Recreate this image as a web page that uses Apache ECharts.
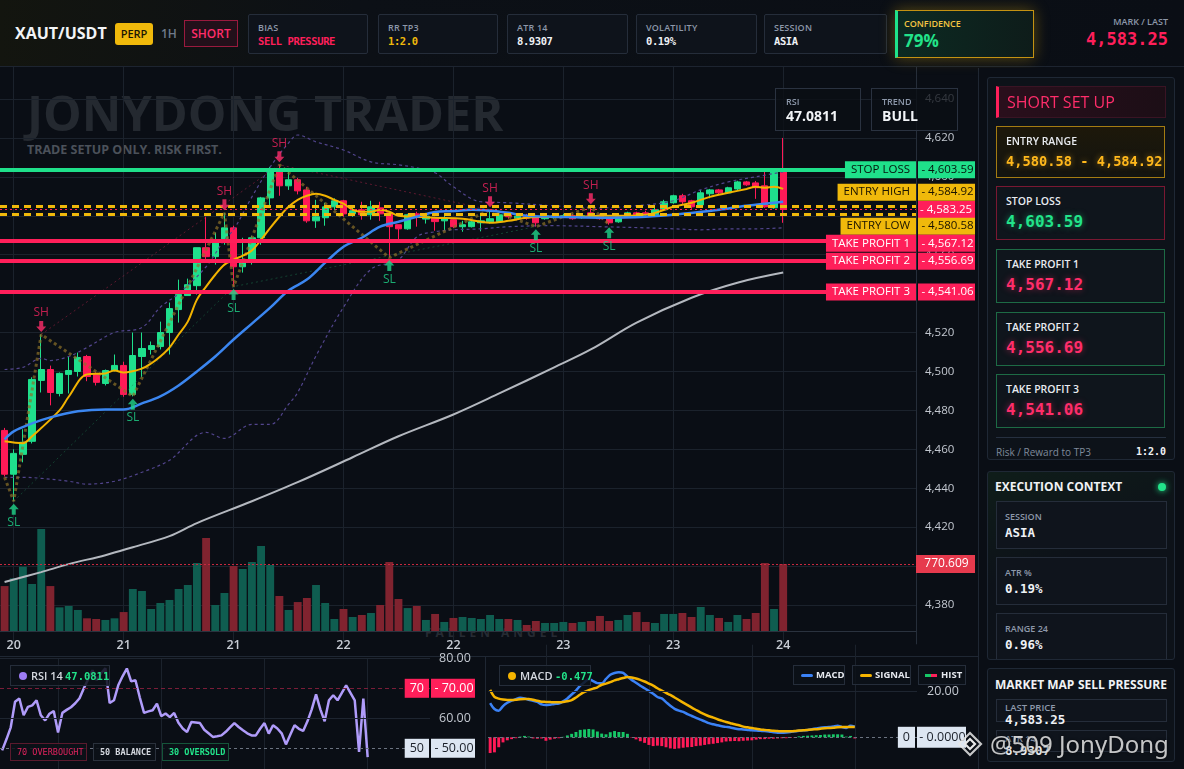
<!DOCTYPE html>
<html><head><meta charset="utf-8">
<script src="https://cdn.jsdelivr.net/npm/echarts@6/dist/echarts.min.js"></script>
<style>
*{box-sizing:border-box;margin:0;padding:0}
body{width:1184px;height:769px;overflow:hidden;background:#0a0e15;font-family:'Open Sans','Noto Sans',sans-serif;color:#e6e9ef;position:relative}
.abs{position:absolute}
.mono{font-family:'DejaVu Sans Mono',monospace;font-weight:700}
.hcard{position:absolute;top:14px;height:40px;border:1px solid #252d3a;background:#0e131b;border-radius:2px}
.hcard .l{position:absolute;left:9px;top:6px;font-size:9px;color:#8d98aa;font-weight:600;letter-spacing:.2px}
.hcard .v{position:absolute;left:9px;top:20px;font-size:10.5px;letter-spacing:-.4px;color:#eef1f5}
.panel{position:absolute;border:1px solid #1f2835;background:#0d1219;border-radius:3px;overflow:hidden}
.rcard{position:absolute;left:8px;width:169px;border:1px solid #1d6b45;background:#0f151c}
.rcard .l{position:absolute;left:9px;top:7px;font-size:10.5px;font-weight:600;color:#e8ebf0}
.rcard .v{position:absolute;left:9px;top:25px;font-size:16px;line-height:20px}
.ecard{position:absolute;left:8px;width:171px;height:48px;border:1px solid #252d3a;background:#0f141c}
.ecard .l{position:absolute;left:8px;top:8px;font-size:9px;color:#8d98aa;font-weight:600}
.ecard .v{position:absolute;left:8px;top:23px;font-size:12.5px;color:#eef1f5}
.ibox{position:absolute;border:1px solid #2a3240;background:rgba(10,14,21,.78)}
.ibox .l{position:absolute;left:10px;top:6px;font-size:9px;color:#8d98aa;font-weight:600}
.ibox .v{position:absolute;left:10px;top:17px;font-size:14px;font-weight:700;color:#f2f4f7}
.lg{position:absolute;height:20px;border:1px solid #252d3a;background:rgba(12,16,23,.85);font-size:9.5px;font-weight:700;color:#e6e9ef;line-height:18px;white-space:nowrap}
</style></head><body>

<!-- background layer -->
<div class="abs" style="left:0;top:0;width:1184px;height:769px;z-index:0">
  <div class="abs" style="left:27px;top:87px;font-size:48.7px;line-height:50px;font-weight:700;color:#242930;white-space:nowrap">JONYDONG TRADER</div>
  <div class="abs" style="left:27px;top:141px;font-size:12.5px;font-weight:700;color:#4b515a;white-space:nowrap">TRADE SETUP ONLY. RISK FIRST.</div>
  <div class="abs" style="left:425px;top:624px;font-size:12px;font-weight:700;letter-spacing:4px;color:#262b33;white-space:nowrap">FALLEN ANGEL</div>
  <div class="abs" style="left:0;top:656px;width:979px;height:1px;background:#1f2733"></div>
  <div class="abs" style="left:978px;top:68px;width:1px;height:701px;background:#1f2733"></div>
  <div class="abs" style="left:485px;top:657px;width:1px;height:112px;background:#1f2733"></div>
</div>

<div id="chart" class="abs" style="left:0;top:0;width:1184px;height:830px;z-index:1"></div>

<!-- header -->
<div class="abs" style="left:0;top:0;width:1184px;height:67px;z-index:2;background:linear-gradient(90deg,#13150f 0%,#0c1016 30%,#0a0e15 100%);border-bottom:1px solid #1d2430">
  <div class="abs" style="left:15px;top:22px;font-size:16px;font-weight:700;color:#f2f4f7;white-space:nowrap">XAUT/USDT</div>
  <div class="abs" style="left:115px;top:23px;width:38px;height:22px;background:#f0b90b;border-radius:3px;color:#1b1604;font-size:11px;font-weight:600;line-height:22px;text-align:center">PERP</div>
  <div class="abs" style="left:161px;top:25px;font-size:12px;color:#6f7a8b;font-weight:600">1H</div>
  <div class="abs" style="left:184px;top:20px;width:54px;height:27px;border:1px solid #9a1a3e;background:#22101a;color:#ff2d6a;font-size:12px;font-weight:600;line-height:25px;text-align:center">SHORT</div>
  <div class="hcard" style="left:248px;width:120px"><div class="l">BIAS</div><div class="v mono" style="color:#ff1f5a">SELL PRESSURE</div></div>
  <div class="hcard" style="left:378px;width:120px"><div class="l">RR TP3</div><div class="v mono" style="color:#f0b90b">1:2.0</div></div>
  <div class="hcard" style="left:507px;width:121px"><div class="l">ATR 14</div><div class="v mono">8.9307</div></div>
  <div class="hcard" style="left:636px;width:121px"><div class="l">VOLATILITY</div><div class="v mono">0.19%</div></div>
  <div class="hcard" style="left:764px;width:123px"><div class="l">SESSION</div><div class="v mono">ASIA</div></div>
  <div class="abs" style="left:895px;top:10px;width:139px;height:48px;border:1px solid #c49212;border-left:3px solid #1ee38b;background:linear-gradient(90deg,#0c2a22,#0e1c1a);box-shadow:0 0 14px rgba(240,185,11,.35)">
    <div class="abs" style="left:6px;top:6px;font-size:9px;font-weight:600;color:#f4c542">CONFIDENCE</div>
    <div class="abs" style="left:6px;top:18px;font-size:17px;font-weight:700;color:#22e38a">79%</div>
  </div>
  <div class="abs" style="right:16px;top:15px;font-size:9px;color:#8d98aa;font-weight:600;text-align:right">MARK / LAST</div>
  <div class="abs mono" style="right:16px;top:29px;font-size:17px;color:#ff1f5a;text-align:right">4,583.25</div>
</div>

<!-- right side -->
<div class="abs" style="left:979px;top:68px;width:205px;height:701px;background:#0a0e15;z-index:2"></div>
<div class="panel" style="left:987px;top:77px;width:188px;height:383px;z-index:3">
  <div class="abs" style="left:8px;top:8px;width:170px;height:32px;background:linear-gradient(90deg,#2a0f1c,#1c0e16);border:1px solid #3a1424;border-left:3px solid #ff1f5a">
    <span class="abs" style="left:8px;top:4px;font-size:16px;color:#ff2d6a;font-weight:500;white-space:nowrap">SHORT SET UP</span></div>
  <div class="rcard" style="top:48px;height:52px;border-color:#a47c12;background:linear-gradient(180deg,#1d180a,#131410)"><div class="l">ENTRY RANGE</div><div class="v mono" style="top:24px;font-size:13.7px;color:#ffb81c;text-shadow:0 0 6px rgba(255,184,28,.5);white-space:nowrap">4,580.58 - 4,584.92</div></div>
  <div class="rcard" style="top:108px;height:54px;border-color:#7a1832"><div class="l">STOP LOSS</div><div class="v mono" style="color:#22e38a;text-shadow:0 0 6px rgba(34,227,138,.5)">4,603.59</div></div>
  <div class="rcard" style="top:171px;height:54px"><div class="l">TAKE PROFIT 1</div><div class="v mono" style="color:#ff2d6a;text-shadow:0 0 6px rgba(255,45,106,.5)">4,567.12</div></div>
  <div class="rcard" style="top:234px;height:54px"><div class="l">TAKE PROFIT 2</div><div class="v mono" style="color:#ff2d6a;text-shadow:0 0 6px rgba(255,45,106,.5)">4,556.69</div></div>
  <div class="rcard" style="top:296px;height:54px"><div class="l">TAKE PROFIT 3</div><div class="v mono" style="color:#ff2d6a;text-shadow:0 0 6px rgba(255,45,106,.5)">4,541.06</div></div>
  <div class="abs" style="left:8px;top:359px;width:170px;height:1px;background:#263040"></div>
  <div class="abs" style="left:8px;top:367px;font-size:10px;color:#7f8a9b;white-space:nowrap">Risk / Reward to TP3</div>
  <div class="abs mono" style="right:8px;top:368px;font-size:10px;color:#f0f2f5">1:2.0</div>
</div>

<div class="panel" style="left:987px;top:471px;width:188px;height:189px;z-index:3;background:linear-gradient(160deg,#0f1d19 0%,#0d1219 45%)">
  <div class="abs" style="left:7px;top:6px;font-size:12px;font-weight:700;color:#f0f2f5;white-space:nowrap">EXECUTION CONTEXT</div>
  <div class="abs" style="left:170px;top:11px;width:8px;height:8px;border-radius:50%;background:#22e38a;box-shadow:0 0 6px #22e38a"></div>
  <div class="ecard" style="top:29px"><div class="l">SESSION</div><div class="v mono">ASIA</div></div>
  <div class="ecard" style="top:85px"><div class="l">ATR %</div><div class="v mono">0.19%</div></div>
  <div class="ecard" style="top:141px"><div class="l">RANGE 24</div><div class="v mono">0.96%</div></div>
</div>

<div class="panel" style="left:987px;top:668px;width:188px;height:94px;z-index:3;overflow:visible">
  <div class="abs" style="left:7px;top:7px;font-size:12px;font-weight:700;color:#f0f2f5;white-space:nowrap">MARKET MAP</div>
  <div class="abs" style="right:7px;top:7px;font-size:12px;font-weight:700;color:#f0f2f5;white-space:nowrap">SELL PRESSURE</div>
  <div class="ecard" style="top:30px;height:23px"><div class="l" style="top:1px;font-size:9.5px">LAST PRICE</div><div class="v mono" style="top:12px">4,583.25</div></div>
  <div class="ecard" style="top:61px;height:22px"><div class="l" style="top:1px;font-size:9.5px">ATR 14</div><div class="v mono" style="top:12px">8.9307</div></div>
</div>

<div class="abs" style="left:957px;top:731px;z-index:4">
  <svg width="26" height="26" viewBox="0 0 26 26"><g fill="none" stroke="#e8e8e8" stroke-width="2.2"><path d="M13 2 L24 13 L13 24 L2 13 Z" opacity=".85"/><path d="M13 8 L18 13 L13 18 L8 13 Z"/></g></svg>
</div>
<div class="abs" style="left:990px;top:727px;z-index:4;font-family:'Noto Sans',sans-serif;font-size:24px;color:rgba(238,238,238,.82);text-shadow:0 0 3px rgba(0,0,0,.7);white-space:nowrap">@509 JonyDong</div>

<!-- chart overlays -->
<div class="ibox" style="left:775px;top:88px;width:86px;height:43px;z-index:2"><div class="l">RSI</div><div class="v">47.0811</div></div>
<div class="ibox" style="left:871px;top:88px;width:87px;height:43px;z-index:2"><div class="l">TREND</div><div class="v">BULL</div></div>

<div class="lg" style="left:10px;top:665px;width:100px;height:21px;z-index:2">
  <span class="abs" style="left:8px;top:6px;width:8px;height:8px;border-radius:50%;background:#9d7cf5"></span>
  <span class="abs" style="left:20px;top:1px;font-size:11px;font-weight:600;color:#d5d9e0">RSI 14</span>
  <span class="abs mono" style="left:54px;top:1px;font-size:10.5px;color:#22e38a">47.0811</span>
</div>
<div class="lg mono" style="left:10px;top:743px;width:77px;height:18px;border-color:#5a1a2d;color:#e0245e;font-size:8.5px;font-weight:400;padding-left:6px;line-height:16px;z-index:2">70 OVERBOUGHT</div>
<div class="lg mono" style="left:93px;top:743px;width:63px;height:18px;border-color:#2a313c;color:#d5d9e0;font-size:8.5px;padding-left:6px;line-height:16px;z-index:2">50 BALANCE</div>
<div class="lg mono" style="left:162px;top:743px;width:67px;height:18px;border-color:#15553a;color:#22e38a;font-size:8.5px;padding-left:6px;line-height:16px;z-index:2">30 OVERSOLD</div>

<div class="lg" style="left:499px;top:665px;width:92px;height:21px;z-index:2">
  <span class="abs" style="left:8px;top:6px;width:8px;height:8px;border-radius:50%;background:#f5b400"></span>
  <span class="abs" style="left:20px;top:1px;font-size:11px;font-weight:600;color:#d5d9e0">MACD</span>
  <span class="abs mono" style="left:55px;top:1px;font-size:10.5px;color:#22e38a">-0.477</span>
</div>
<div class="lg" style="left:793px;top:665px;width:52px;z-index:2"><span class="abs" style="left:7px;top:8px;width:12px;height:3px;border-radius:2px;background:#3b82f6"></span><span class="abs" style="left:22px;top:0">MACD</span></div>
<div class="lg" style="left:852px;top:665px;width:59px;z-index:2"><span class="abs" style="left:7px;top:8px;width:12px;height:3px;border-radius:2px;background:#f5b400"></span><span class="abs" style="left:22px;top:0">SIGNAL</span></div>
<div class="lg" style="left:918px;top:665px;width:48px;z-index:2"><span class="abs" style="left:6px;top:8px;width:6px;height:3px;background:#16c766"></span><span class="abs" style="left:12px;top:8px;width:6px;height:3px;background:#ff1f5a"></span><span class="abs" style="left:22px;top:0">HIST</span></div>

<script>
// ---------------- data ----------------
const tickLabels = ['20', '21', '21', '22', '22', '23', '23', '24'];

const opens = [4469.7, 4447.2, 4457.4, 4464.1, 4495.4, 4501.0, 4488.7, 4498.5, 4500.0, 4507.7,
  4499.0, 4493.8, 4500.5, 4503.1, 4488.2, 4507.7, 4511.3, 4512.8, 4520.0, 4531.8,
  4539.0, 4544.1, 4563.6, 4559.0, 4567.2, 4573.8, 4553.8, 4556.4, 4568.7, 4589.2,
  4604.1, 4595.4, 4598.5, 4593.3, 4577.4, 4579.0, 4584.6, 4587.7, 4581.0, 4583.1,
  4580.5, 4584.1, 4581.5, 4575.4, 4573.3, 4581.0, 4578.3, 4579.0, 4577.4, 4578.0,
  4574.4, 4574.4, 4576.4, 4576.9, 4576.9, 4580.5, 4578.6, 4580.0, 4579.5, 4578.5,
  4579.0, 4579.5, 4580.0, 4579.0, 4581.5, 4580.0, 4579.0, 4576.9, 4579.5, 4581.5,
  4581.5, 4580.5, 4583.1, 4586.7, 4590.3, 4587.7, 4585.6, 4591.3, 4593.3, 4591.8,
  4593.8, 4597.4, 4596.9, 4595.4, 4584.1, 4603.6];
const closes = [4447.2, 4457.9, 4463.6, 4495.9, 4501.0, 4489.2, 4499.0, 4500.5, 4507.2, 4497.4,
  4494.4, 4500.5, 4503.1, 4488.2, 4508.2, 4511.8, 4513.3, 4520.0, 4532.3, 4539.5,
  4544.6, 4563.6, 4559.0, 4567.7, 4573.8, 4553.8, 4557.4, 4568.7, 4589.2, 4604.1,
  4595.4, 4598.5, 4592.8, 4577.4, 4579.5, 4584.6, 4587.7, 4581.0, 4582.6, 4580.5,
  4584.6, 4581.0, 4574.4, 4573.3, 4580.5, 4579.5, 4579.8, 4577.0, 4578.5, 4574.4,
  4575.4, 4576.9, 4577.4, 4578.5, 4580.5, 4579.5, 4579.8, 4578.8, 4576.4, 4580.0,
  4580.0, 4580.0, 4578.5, 4580.0, 4580.0, 4578.5, 4576.4, 4579.5, 4581.5, 4580.5,
  4580.5, 4583.1, 4587.2, 4590.3, 4587.2, 4584.6, 4591.8, 4593.3, 4591.8, 4594.4,
  4597.4, 4595.9, 4594.4, 4584.6, 4603.6, 4583.25];
const lows = [4446.0, 4433.3, 4453.3, 4463.0, 4489.2, 4482.6, 4487.2, 4488.7, 4497.4, 4495.0,
  4492.8, 4492.8, 4500.0, 4487.0, 4487.2, 4497.0, 4508.7, 4511.3, 4508.7, 4525.1,
  4539.0, 4539.5, 4557.4, 4554.9, 4565.1, 4543.6, 4550.8, 4554.9, 4565.1, 4584.6,
  4590.3, 4593.3, 4591.0, 4576.4, 4573.8, 4574.9, 4583.0, 4579.5, 4579.5, 4578.0,
  4578.0, 4577.4, 4558.5, 4567.7, 4572.8, 4574.4, 4576.0, 4572.3, 4572.3, 4573.8,
  4571.8, 4574.0, 4572.0, 4576.0, 4576.4, 4578.5, 4578.0, 4578.0, 4574.4, 4578.0,
  4578.5, 4579.0, 4578.0, 4578.5, 4579.0, 4578.0, 4575.4, 4576.4, 4579.0, 4580.0,
  4580.0, 4580.0, 4583.0, 4586.2, 4585.6, 4583.6, 4585.0, 4589.0, 4590.8, 4591.3,
  4593.0, 4595.4, 4588.7, 4584.1, 4583.6, 4576.4];
const highs = [4471.0, 4460.0, 4470.3, 4497.0, 4519.0, 4503.0, 4499.5, 4507.7, 4509.7, 4508.5,
  4499.5, 4501.0, 4508.7, 4505.0, 4520.0, 4520.0, 4515.4, 4525.6, 4535.4, 4547.2,
  4547.7, 4563.6, 4579.5, 4571.3, 4581.5, 4574.9, 4568.7, 4569.7, 4589.7, 4605.1,
  4606.2, 4602.6, 4599.5, 4594.9, 4588.2, 4586.7, 4589.0, 4588.2, 4585.1, 4587.2,
  4587.7, 4587.2, 4582.1, 4575.4, 4581.0, 4582.1, 4581.5, 4579.5, 4580.5, 4578.5,
  4577.4, 4577.4, 4581.5, 4583.1, 4581.0, 4581.5, 4581.0, 4581.0, 4580.5, 4581.0,
  4580.5, 4581.0, 4581.0, 4581.0, 4584.6, 4581.0, 4579.5, 4580.0, 4582.1, 4582.1,
  4582.6, 4584.1, 4588.2, 4590.8, 4591.3, 4588.2, 4593.3, 4593.8, 4593.8, 4594.9,
  4598.0, 4597.9, 4597.9, 4602.6, 4604.1, 4620.0];
const volumes = [517, 606, 740, 541, 1173, 517, 272, 288, 242, 146,
  138, 127, 146, 218, 483, 460, 253, 322, 357, 483,
  529, 782, 1069, 299, 437, 748, 713, 794, 978, 759,
  403, 242, 333, 380, 529, 322, 138, 253, 161, 184,
  207, 299, 794, 368, 264, 288, 127, 196, 104, 150,
  161, 150, 138, 184, 138, 138, 127, 69, 115, 92,
  92, 104, 92, 104, 115, 173, 115, 127, 184, 218,
  104, 92, 196, 196, 207, 161, 276, 184, 150, 104,
  184, 138, 207, 782, 253, 770.609];

// moving averages / bands as [candle index, price]
const emaFast = [[0, 4464.1], [2, 4463.1], [3, 4466.7], [6, 4480.0], [7, 4487.0], [9, 4498.5], [11, 4499.0], [12, 4500.5], [13, 4499.5],
  [15, 4501.5], [16, 4504.1], [17, 4507.7], [18, 4512.3], [19, 4519.0], [20, 4525.6], [21, 4536.9], [22, 4543.6], [23, 4549.7],
  [24, 4554.9], [25, 4557.4], [26, 4559.5], [27, 4562.1], [28, 4567.7], [29, 4573.8], [30, 4579.5], [31, 4584.6], [32, 4588.2],
  [33, 4590.3], [34, 4591.3], [35, 4590.3], [36, 4588.2], [37, 4586.2], [38, 4583.1], [39, 4582.1], [40, 4582.1], [41, 4583.1],
  [42, 4582.1], [43, 4580.0], [45, 4579.5], [47, 4579.0], [50, 4578.5], [52, 4576.9], [53, 4576.4], [55, 4577.4], [57, 4579.0],
  [60, 4579.5], [63, 4579.5], [65, 4580.0], [68, 4580.0], [70, 4580.5], [71, 4581.5], [73, 4584.6], [75, 4586.7], [77, 4589.7],
  [79, 4591.8], [81, 4593.8], [82, 4594.9], [83, 4594.4], [84, 4594.9], [85, 4593.8]];
const emaMid = [[0, 4465.1], [1, 4469.2], [3, 4473.3], [5, 4476.4], [8, 4479.5], [11, 4480.5], [13, 4480.5], [15, 4483.6], [17, 4487.2],
  [19, 4492.8], [21, 4500.0], [23, 4507.7], [25, 4516.4], [27, 4524.6], [29, 4532.8], [31, 4541.6], [33, 4547.2], [35, 4555.9],
  [37, 4564.1], [39, 4568.7], [41, 4574.4], [43, 4576.9], [45, 4579.5], [47, 4582.0], [49, 4582.4], [51, 4583.1], [53, 4582.6],
  [55, 4581.5], [57, 4580.0], [60, 4579.5], [65, 4579.0], [70, 4579.5], [74, 4581.0], [78, 4583.1], [81, 4585.1], [85, 4587.2]];
const emaSlow = [[0, 4391.8], [4, 4396.9], [7, 4401.0], [11, 4405.6], [14, 4409.7], [18, 4415.4], [21, 4422.1], [27, 4433.3],
  [32, 4443.1], [38, 4455.9], [43, 4466.7], [49, 4477.9], [54, 4488.7], [60, 4502.1], [64, 4511.3], [69, 4525.1], [75, 4537.9],
  [80, 4545.6], [85, 4550.8]];
const bbUpper = [[0, 4501.0], [2, 4502.1], [4, 4506.7], [5, 4505.6], [7, 4507.7], [9, 4512.3], [12, 4520.0], [15, 4522.6], [17, 4533.0],
  [19, 4540.0], [22, 4553.8], [24, 4567.7], [25, 4572.8], [27, 4589.7], [29, 4605.1], [31, 4617.4], [32, 4621.5], [34, 4618.0],
  [37, 4613.8], [40, 4607.7], [43, 4606.2], [45, 4604.6], [47, 4602.1], [49, 4594.9], [52, 4587.2], [55, 4586.7], [60, 4585.1],
  [65, 4584.1], [70, 4585.6], [73, 4587.7], [76, 4593.3], [79, 4597.4], [82, 4600.0], [85, 4602.6]];
const bbLower = [[0, 4445.6], [2, 4445.6], [4, 4445.1], [7, 4443.6], [9, 4442.1], [12, 4443.6], [15, 4448.2], [18, 4454.4], [22, 4468.7],
  [24, 4465.6], [27, 4472.8], [29, 4472.8], [31, 4483.1], [32, 4489.2], [34, 4508.0], [37, 4533.0], [40, 4552.5], [43, 4557.4],
  [45, 4569.2], [47, 4571.8], [49, 4572.8], [52, 4573.3], [55, 4574.4], [60, 4574.9], [65, 4574.4], [70, 4573.8], [73, 4573.3],
  [76, 4572.8], [79, 4573.3], [82, 4573.3], [85, 4573.8]];
const zigzag = [[0, 4445.6], [1, 4433.3], [4, 4519.0], [14, 4487.2], [24, 4581.5], [25, 4543.6], [30, 4606.2], [42, 4558.5],
  [53, 4583.1], [58, 4574.4], [64, 4584.6], [66, 4575.4]];
const resistanceLine = [[4, 4519.0], [30, 4606.2], [53, 4583.1]];
const supportLine = [[1, 4433.3], [25, 4543.6], [58, 4574.4]];
const swingHighs = [[4, 4519.0], [24, 4581.5], [30, 4606.2], [53, 4583.1], [64, 4584.6]];
const swingLows = [[1, 4433.3], [14, 4487.2], [25, 4543.6], [42, 4558.5], [58, 4574.4], [66, 4575.4]];

const levelNames = ['STOP LOSS', 'ENTRY HIGH', '', 'ENTRY LOW', 'TAKE PROFIT 1', 'TAKE PROFIT 2', 'TAKE PROFIT 3'];
const levelValues = [4603.59, 4584.92, 4583.25, 4580.58, 4567.12, 4556.69, 4541.06];

const rsi = [49.3, 53.0, 57.0, 65.5, 66.6, 61.0, 63.8, 64.3, 66.0, 61.0,
  59.3, 61.5, 62.4, 55.3, 61.8, 62.8, 63.7, 65.0, 66.7, 70.0,
  73.0, 76.0, 72.7, 75.0, 76.7, 65.1, 66.0, 71.0, 74.0, 76.6,
  72.3, 72.7, 67.0, 61.8, 62.3, 62.7, 64.9, 60.7, 61.6, 60.4,
  61.8, 58.5, 56.6, 55.4, 58.8, 58.6, 58.4, 56.2, 55.0, 53.8,
  54.0, 54.3, 55.5, 57.0, 58.4, 57.1, 56.0, 55.0, 54.3, 54.3,
  56.5, 58.4, 54.9, 57.7, 56.6, 55.0, 51.3, 54.5, 57.7, 56.5,
  55.8, 59.0, 63.0, 68.0, 63.0, 59.0, 66.0, 67.7, 66.0, 68.5,
  71.0, 68.5, 66.0, 48.8, 66.6, 47.08];
const rsiGuides = [80, 60];
const rsiBands = [70, 50];

const macd = [14.8, 12.2, 11.5, 13.5, 14.9, 15.8, 16.5, 17.1, 16.8, 16.2,
  15.8, 15.3, 14.2, 13.9, 14.1, 14.4, 14.6, 15.5, 16.8, 18.5,
  20.2, 22.3, 23.8, 25.1, 24.3, 23.4, 23.3, 25.2, 27.0, 27.8,
  28.1, 27.8, 26.2, 24.8, 23.6, 22.3, 21.2, 20.0, 18.8, 17.4,
  16.8, 15.2, 13.6, 12.3, 11.5, 11.0, 10.0, 9.2, 8.4, 7.6,
  6.9, 6.1, 5.6, 5.2, 4.8, 4.5, 4.2, 3.8, 3.5, 3.4,
  3.2, 3.0, 2.9, 2.8, 2.7, 2.5, 2.2, 2.0, 2.0, 2.1,
  2.3, 2.6, 2.8, 3.0, 3.2, 3.5, 3.8, 4.1, 4.3, 4.4,
  4.7, 5.0, 4.4, 4.0, 5.0, 4.6];
const signal = [20.5, 17.5, 16.7, 16.3, 16.1, 16.1, 16.2, 16.4, 16.5, 16.5,
  16.2, 15.8, 15.4, 15.3, 15.2, 15.1, 15.1, 15.2, 15.6, 16.1,
  17.2, 18.5, 19.6, 20.4, 21.0, 21.6, 22.7, 23.2, 23.8, 24.6,
  25.1, 25.6, 26.0, 25.8, 25.4, 24.8, 24.1, 23.2, 22.3, 21.2,
  20.2, 19.2, 18.3, 17.2, 16.1, 15.0, 13.9, 12.8, 11.8, 10.8,
  9.9, 9.1, 8.5, 7.8, 7.2, 6.6, 6.1, 5.6, 5.2, 4.6,
  4.3, 4.0, 3.7, 3.4, 3.2, 3.0, 2.8, 2.7, 2.6, 2.6,
  2.6, 2.7, 2.9, 3.0, 3.2, 3.4, 3.5, 3.7, 3.9, 4.0,
  4.1, 4.3, 4.4, 4.4, 4.5, 4.5];
const hist = [-6.8, -6.5, -4.3, -2.2, -1.3, -0.8, -0.4, 0.3, 0.6, 0.3,
  -0.5, -0.6, -0.5, -1.5, -1.0, -0.6, -0.4, 0.2, 0.8, 1.5,
  2.3, 3.2, 3.4, 3.6, 3.4, 2.5, 1.6, 1.3, 2.2, 2.7,
  2.3, 2.3, 1.5, -0.2, -0.9, -1.7, -2.4, -3.3, -3.8, -3.6,
  -3.8, -4.3, -4.8, -5.0, -4.8, -4.5, -4.3, -4.2, -3.8, -3.6,
  -3.3, -3.0, -2.8, -2.5, -2.2, -1.8, -1.7, -1.6, -1.7, -1.5,
  -1.4, -1.3, -1.0, -0.8, -0.8, -0.6, -0.6, -0.5, -0.4, -0.4,
  -0.3, -0.2, 0.4, 0.6, 0.7, 0.8, 0.9, 1.0, 1.2, 1.2,
  1.3, 1.3, 1.2, 0.3, 0.6, -0.5];
const macdGuides = [20];
const macdZero = [0];

// ---------------- build ----------------
const SLOTS = 100;
const categories = [];
for (let i = 0; i < SLOTS; i++) {
  const h = i + 11;
  categories.push((20 + Math.floor(h / 24)) + ' ' + String(h % 24).padStart(2, '0') + ':00');
}
const UP = '#1fe08c', DOWN = '#ff1a57';
const fmtPrice = v => v.toLocaleString('en-US', {minimumFractionDigits: 2, maximumFractionDigits: 2});
const candles = opens.map((o, i) => [o, closes[i], lows[i], highs[i]]);

function tag(name, valueText, bg, fg, opts) {
  const h = opts.h || 17, fs = opts.fs || 11.5;
  const shift = opts.shift || 0;
  const base = {backgroundColor: bg, color: fg, fontSize: fs, fontFamily: 'Open Sans', height: h, lineHeight: h};
  return {
    show: true, position: 'end', distance: opts.distance, align: 'right', verticalAlign: 'middle',
    padding: shift >= 0 ? [shift * 2, 0, 0, 0] : [0, 0, -shift * 2, 0],
    formatter: (name ? '{n|' + name + '}{s| }' : '') + '{v|' + valueText + '}',
    rich: {
      n: Object.assign({}, base, {padding: [0, opts.np || 6, 0, opts.np || 6]}),
      s: {width: opts.gap || 2, height: h, fontSize: 4},
      v: Object.assign({}, base, {width: opts.vw, padding: [0, 0, 0, 2], align: opts.valign || 'left'})
    }
  };
}

const levelLook = {
  'STOP LOSS': {c: '#1fe08a', fg: '#06140c', w: 4, t: 'solid', shift: 0},
  'ENTRY HIGH': {c: '#f0b90b', fg: '#1a1300', w: 3, t: [7, 5], shift: -14},
  '': {c: '#ff1f5a', fg: '#ffffff', w: 1, t: [2, 3], shift: 0},
  'ENTRY LOW': {c: '#f0b90b', fg: '#1a1300', w: 3, t: [7, 5], shift: 11.5},
  'TAKE PROFIT 1': {c: '#ff1f5a', fg: '#ffffff', w: 4, t: 'solid', shift: 2.5},
  'TAKE PROFIT 2': {c: '#ff1f5a', fg: '#ffffff', w: 4, t: 'solid', shift: 0},
  'TAKE PROFIT 3': {c: '#ff1f5a', fg: '#ffffff', w: 4, t: 'solid', shift: 0.5}
};
const levelLines = levelValues.map((v, i) => {
  const nm = levelNames[i], lk = levelLook[nm];
  return {
    yAxis: v,
    lineStyle: {color: lk.c, width: lk.w, type: lk.t},
    label: tag(nm, '- ' + fmtPrice(v), lk.c, lk.fg, {distance: 59, vw: 55, shift: lk.shift})
  };
});

const gridLineColor = '#1b222c';
const hiddenCat = (gi, splitFn) => ({
  type: 'category', gridIndex: gi, data: categories, boundaryGap: true,
  axisLine: {show: false}, axisTick: {show: false}, axisLabel: {show: false},
  splitLine: {show: !!splitFn, interval: splitFn, alignWithLabel: true, lineStyle: {color: gridLineColor, width: 1}}
});
const lineSeries = (data, color, width, extra) => Object.assign({
  type: 'line', xAxisIndex: 0, yAxisIndex: 0, data: data, symbol: 'none', silent: true,
  connectNulls: true, lineStyle: {color: color, width: width}, smooth: 0.35
}, extra || {});

const option = {
  animation: false,
  backgroundColor: 'transparent',
  grid: [
    {left: 0, width: 916, top: 60.1, height: 583.8},
    {left: 0, width: 916, top: 518, height: 113},
    {left: 0, width: 430, top: 658.3, height: 120},
    {left: 488, width: 429, top: 644.7, height: 138.9}
  ],
  xAxis: [
    hiddenCat(0, i => i % 12 === 1 && i <= 85),
    {
      type: 'category', gridIndex: 1, data: categories, boundaryGap: true,
      axisLine: {show: true, lineStyle: {color: '#2a323e'}}, axisTick: {show: false},
      axisLabel: {interval: i => i % 12 === 1 && i <= 85, formatter: (v, i) => tickLabels[(i - 1) / 12],
        color: '#c8cdd5', fontSize: 12.5, fontWeight: 600, fontFamily: 'Open Sans', margin: 8},
      splitLine: {show: false}
    },
    hiddenCat(2, i => i % 24 === 13),
    hiddenCat(3, i => i % 24 === 13)
  ],
  yAxis: [
    {
      type: 'value', gridIndex: 0, position: 'right', min: 4360, max: 4660, interval: 20, scale: true,
      axisLine: {show: true, lineStyle: {color: '#262e3a'}}, axisTick: {show: false},
      axisLabel: {color: '#c3c8d0', fontSize: 11.5, fontFamily: 'Open Sans', margin: 9, showMinLabel: false, showMaxLabel: false,
        formatter: v => v.toLocaleString('en-US')},
      splitLine: {show: true, showMinLine: false, showMaxLine: false, lineStyle: {color: gridLineColor}}
    },
    {type: 'value', gridIndex: 1, min: 0, max: 1300, show: false, splitLine: {show: false}},
    {
      type: 'value', gridIndex: 2, position: 'right', min: 40, max: 80, interval: 10,
      axisLine: {show: false}, axisTick: {show: false}, splitLine: {show: false},
      axisLabel: {color: '#c3c8d0', fontSize: 12.5, fontFamily: 'Open Sans', margin: 9,
        formatter: v => (v === 70 || v === 50 || v === 40) ? '' : v.toFixed(2)}
    },
    {
      type: 'value', gridIndex: 3, position: 'right', min: -20, max: 40, interval: 20,
      axisLine: {show: false}, axisTick: {show: false}, splitLine: {show: false},
      axisLabel: {color: '#c3c8d0', fontSize: 12.5, fontFamily: 'Open Sans', margin: 10,
        formatter: v => (v > 0 && v < 40) ? v.toFixed(2) : ''}
    }
  ],
  series: [
    {
      type: 'bar', xAxisIndex: 1, yAxisIndex: 1, barWidth: '86%', silent: true,
      data: volumes.map((v, i) => ({value: v, itemStyle: {color: closes[i] >= opens[i] ? '#0f5d50' : '#80232f'}})),
      markLine: {
        symbol: ['none', 'none'], silent: true,
        data: [{yAxis: volumes[volumes.length - 1],
          lineStyle: {color: '#c8283f', width: 1, type: [2, 2]},
          label: tag('', String(volumes[volumes.length - 1]), '#e63a4d', '#ffffff', {distance: 59, vw: 57, valign: 'center', h: 18, fs: 12})}]
      }
    },
    lineSeries(bbUpper, '#52458d', 1.2, {lineStyle: {color: '#52458d', width: 1.2, type: [3, 3]}}),
    lineSeries(bbLower, '#52458d', 1.2, {lineStyle: {color: '#52458d', width: 1.2, type: [3, 3]}}),
    lineSeries(resistanceLine, '#6a1b33', 1, {smooth: false, lineStyle: {color: 'rgba(160,35,70,0.55)', width: 1, type: [2, 3]}}),
    lineSeries(supportLine, '#1c5a40', 1, {smooth: false, lineStyle: {color: 'rgba(30,120,80,0.5)', width: 1, type: [2, 3]}}),
    lineSeries(zigzag, '#7a6428', 3, {smooth: false, lineStyle: {color: 'rgba(140,112,40,0.7)', width: 3, type: [3, 3]}}),
    lineSeries(emaSlow, '#b4b8bf', 2),
    {
      type: 'candlestick', xAxisIndex: 0, yAxisIndex: 0, data: candles, barWidth: '74%', silent: true,
      itemStyle: {color: UP, color0: DOWN, borderColor: UP, borderColor0: DOWN, borderWidth: 1}
    },
    lineSeries(emaFast, '#f2b300', 2),
    lineSeries(emaMid, '#3b86f0', 2.5),
    {
      type: 'line', xAxisIndex: 0, yAxisIndex: 0, data: closes, symbol: 'none', silent: true,
      lineStyle: {opacity: 0}, z: 4,
      markLine: {symbol: ['none', 'none'], silent: true, data: levelLines}
    },
    {
      type: 'scatter', xAxisIndex: 0, yAxisIndex: 0, data: swingHighs, silent: true, z: 6,
      symbol: 'path://M3,0 L7,0 L7,6 L10,6 L5,12 L0,6 L3,6 Z', symbolSize: [10, 11], symbolOffset: [0, -8],
      itemStyle: {color: '#ff2d6a'},
      label: {show: true, position: 'top', distance: 2, formatter: 'SH', color: '#f0245f', fontSize: 12, fontFamily: 'Open Sans'}
    },
    {
      type: 'scatter', xAxisIndex: 0, yAxisIndex: 0, data: swingLows, silent: true, z: 6,
      symbol: 'path://M5,0 L10,6 L7,6 L7,12 L3,12 L3,6 L0,6 Z', symbolSize: [10, 11], symbolOffset: [0, 8],
      itemStyle: {color: '#1fd48a'},
      label: {show: true, position: 'bottom', distance: 2, formatter: 'SL', color: '#1fd48a', fontSize: 12, fontFamily: 'Open Sans'}
    },
    {
      type: 'line', xAxisIndex: 2, yAxisIndex: 2, data: rsi, symbol: 'none', silent: true,
      lineStyle: {color: '#b09cfa', width: 2.5},
      markLine: {
        symbol: ['none', 'none'], silent: true,
        data: rsiGuides.map(v => ({yAxis: v, lineStyle: {color: '#1e2530', width: 1, type: 'solid'}, label: {show: false}}))
          .concat([
            {yAxis: rsiBands[0], lineStyle: {color: '#7a1d38', width: 1, type: [4, 3]},
              label: tag(String(rsiBands[0]), '- ' + rsiBands[0].toFixed(2), '#ff1f5a', '#ffffff', {distance: 45, vw: 42, h: 19, fs: 12.5, np: 5})},
            {yAxis: rsiBands[1], lineStyle: {color: '#6b7380', width: 1, type: [3, 3]},
              label: tag(String(rsiBands[1]), '- ' + rsiBands[1].toFixed(2), '#dde6f2', '#1a1f28', {distance: 45, vw: 42, h: 19, fs: 12.5, np: 5})}
          ])
      }
    },
    {
      type: 'bar', xAxisIndex: 3, yAxisIndex: 3, barWidth: '68%', silent: true,
      data: hist.map(v => ({value: v, itemStyle: {color: v >= 0 ? '#16c766' : '#ff1a57'}}))
    },
    {
      type: 'line', xAxisIndex: 3, yAxisIndex: 3, data: macd, symbol: 'none', silent: true, smooth: 0.3,
      lineStyle: {color: '#3b82f6', width: 2.5},
      markLine: {
        symbol: ['none', 'none'], silent: true,
        data: macdGuides.map(v => ({yAxis: v, lineStyle: {color: '#1e2530', width: 1, type: 'solid'}, label: {show: false}}))
          .concat(macdZero.map(v => ({yAxis: v, lineStyle: {color: '#6b7380', width: 1, type: [3, 3]},
            label: tag(String(v), '- ' + v.toFixed(4), '#dde6f2', '#1a1f28', {distance: 49, vw: 47, h: 21, fs: 12.5, np: 5})})))
      }
    },
    {
      type: 'line', xAxisIndex: 3, yAxisIndex: 3, data: signal, symbol: 'none', silent: true, smooth: 0.3,
      lineStyle: {color: '#f5b400', width: 2.5}
    }
  ]
};

const chart = echarts.init(document.getElementById('chart'));
chart.setOption(option);
</script>
</body></html>
